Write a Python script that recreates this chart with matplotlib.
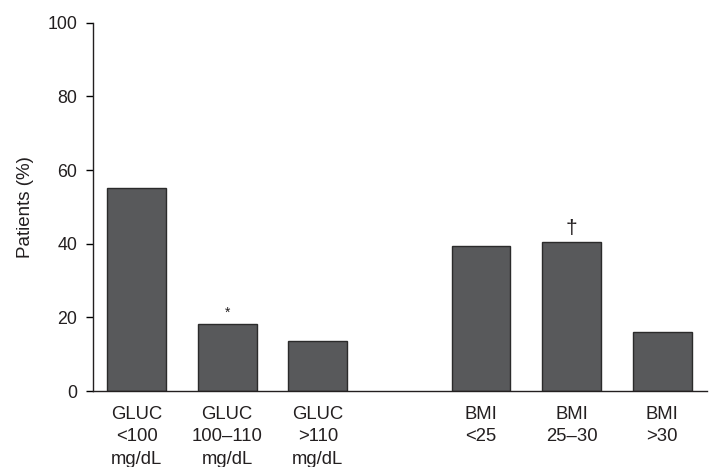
import matplotlib.pyplot as plt

plt.rcParams['font.family'] = ['Liberation Sans', 'DejaVu Sans']

# Data
labels = ["GLUC\n<100\nmg/dL", "GLUC\n100\u2013110\nmg/dL", "GLUC\n>110\nmg/dL",
          "BMI\n<25", "BMI\n25\u201330", "BMI\n>30"]
positions = [0, 1, 2, 3.8, 4.8, 5.8]
patients = [55.0, 18.2, 13.6, 39.4, 40.5, 16.1]
marks = ["", "*", "", "", "\u2020", ""]

fig = plt.figure(figsize=(7.12, 4.67), dpi=100)
ax = fig.add_axes([0.130, 0.1627, 0.8626, 0.7887])

ax.bar(positions, patients, width=0.65, color="#58595b",
       edgecolor="#2b2b2b", linewidth=1.0)

for x, v, m in zip(positions, patients, marks):
    if m == "*":
        ax.text(x, v + 1.2, m, ha="center", va="bottom", fontsize=10, color="#231f20")
    elif m:
        ax.text(x, v + 1.0, m, ha="center", va="bottom", fontsize=15, color="#231f20")

ax.set_xlim(-0.485, 6.29)
ax.set_ylim(0, 100)
ax.set_yticks([0, 20, 40, 60, 80, 100])
ax.set_xticks(positions)
ax.set_xticklabels(labels, fontsize=13.3, color="#231f20", linespacing=1.4, va="top")
ax.tick_params(axis="x", length=0, pad=11)
ax.tick_params(axis="y", length=5, width=1, labelsize=12.8, labelcolor="#231f20", pad=6)
ax.set_ylabel("Patients (%)", fontsize=13.5, color="#231f20", labelpad=10)

for s in ["top", "right"]:
    ax.spines[s].set_visible(False)
for s in ["left", "bottom"]:
    ax.spines[s].set_linewidth(1.0)
    ax.spines[s].set_color("#231f20")

fig.savefig("out.png", dpi=100)
